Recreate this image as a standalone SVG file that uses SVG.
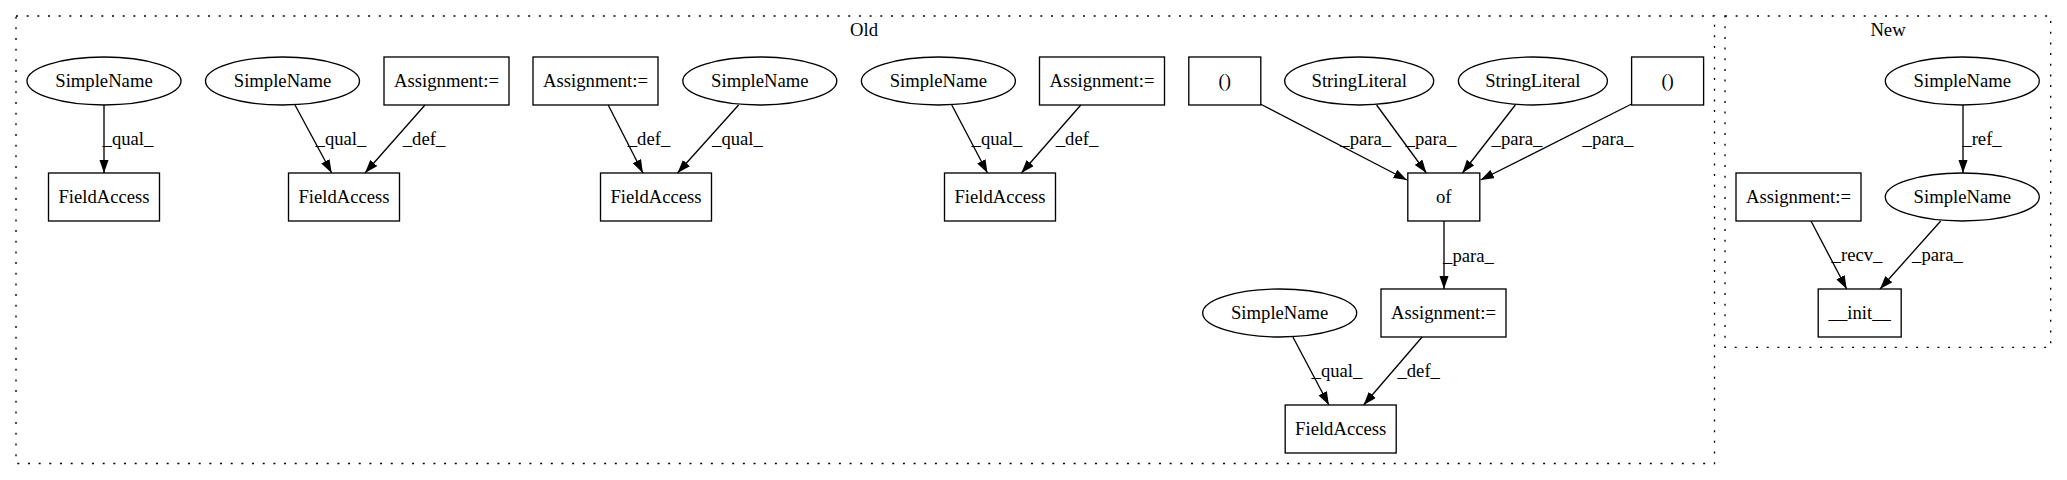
<svg xmlns="http://www.w3.org/2000/svg" width="2067" height="480" viewBox="0 0 2067 480">
<defs>
<marker id="arr" markerUnits="userSpaceOnUse" markerWidth="14" markerHeight="10" refX="13.3" refY="4.67" orient="auto">
<path d="M0,0 L13.3,4.67 L0,9.33 Z" fill="#000"/>
</marker>
</defs>
<style>
text{font-family:'Times New Roman',Times,'Liberation Serif','Nimbus Roman','Nimbus Roman No9 L',Tinos,FreeSerif,'Noto Serif','DejaVu Serif',serif;font-size:18.67px;fill:#000;text-anchor:middle}
.n rect,.n ellipse{fill:none;stroke:#000;stroke-width:1.33}
.cl{fill:none;stroke:#000;stroke-width:1.33;stroke-dasharray:2,8.67}
.e line{stroke:#000;stroke-width:1.33;marker-end:url(#arr)}
</style>
<rect width="2067" height="480" fill="#fff"/>
<g id="cluster_old">
<rect class="cl" x="16" y="16" width="1698.5" height="447.5"/>
<text x="864" y="36">Old</text>
</g>
<g id="cluster_new">
<rect class="cl" x="1725" y="16" width="325.7" height="331.3"/>
<text x="1888" y="36">New</text>
</g>
<g id="edges" class="e">
<line x1="104" y1="105" x2="104" y2="173"/>
<text x="128" y="145">_qual_</text>
<line x1="295" y1="105" x2="331.7" y2="173"/>
<text x="341" y="145">_qual_</text>
<line x1="425" y1="105" x2="365" y2="173"/>
<text x="424" y="145">_def_</text>
<line x1="608.2" y1="105" x2="642.9" y2="173"/>
<text x="649" y="145">_def_</text>
<line x1="738.6" y1="105" x2="677.5" y2="173"/>
<text x="737.5" y="145">_qual_</text>
<line x1="951.8" y1="105" x2="987.5" y2="173"/>
<text x="997" y="145">_qual_</text>
<line x1="1080.8" y1="105" x2="1021.4" y2="173"/>
<text x="1077" y="145">_def_</text>
<line x1="1260.3" y1="104" x2="1406.9" y2="180"/>
<text x="1365.7" y="145">_para_</text>
<line x1="1376.6" y1="105" x2="1426.4" y2="173"/>
<text x="1431" y="145">_para_</text>
<line x1="1515.3" y1="105" x2="1462.4" y2="173"/>
<text x="1517" y="145">_para_</text>
<line x1="1631.6" y1="104" x2="1480.6" y2="180"/>
<text x="1608" y="145">_para_</text>
<line x1="1444" y1="221" x2="1444" y2="289"/>
<text x="1468.5" y="262">_para_</text>
<line x1="1292.9" y1="337" x2="1328.9" y2="405"/>
<text x="1337" y="377">_qual_</text>
<line x1="1422.1" y1="337" x2="1363.6" y2="405"/>
<text x="1418.7" y="377">_def_</text>
<line x1="1963" y1="105" x2="1963" y2="173"/>
<text x="1982" y="145">_ref_</text>
<line x1="1811" y1="221" x2="1846.7" y2="289"/>
<text x="1857" y="261">_recv_</text>
<line x1="1940.7" y1="221" x2="1880" y2="289"/>
<text x="1937.5" y="261">_para_</text>
</g>
<g id="n_sn_a" class="n"><ellipse cx="104" cy="81" rx="77" ry="24"/><text x="104" y="87">SimpleName</text></g>
<g id="n_fa_a" class="n"><rect x="48.5" y="173" width="111" height="48"/><text x="104" y="203">FieldAccess</text></g>
<g id="n_sn_b" class="n"><ellipse cx="282.5" cy="81" rx="77" ry="24"/><text x="282.5" y="87">SimpleName</text></g>
<g id="n_a_b" class="n"><rect x="384" y="57" width="125" height="48"/><text x="446.5" y="87">Assignment:=</text></g>
<g id="n_fa_b" class="n"><rect x="288.5" y="173" width="111" height="48"/><text x="344" y="203">FieldAccess</text></g>
<g id="n_a_c" class="n"><rect x="533" y="57" width="125" height="48"/><text x="595.5" y="87">Assignment:=</text></g>
<g id="n_sn_c" class="n"><ellipse cx="759.8" cy="81" rx="77" ry="24"/><text x="759.8" y="87">SimpleName</text></g>
<g id="n_fa_c" class="n"><rect x="600.5" y="173" width="111" height="48"/><text x="656" y="203">FieldAccess</text></g>
<g id="n_sn_d" class="n"><ellipse cx="938.4" cy="81" rx="77" ry="24"/><text x="938.4" y="87">SimpleName</text></g>
<g id="n_a_d" class="n"><rect x="1039.5" y="57" width="125" height="48"/><text x="1102" y="87">Assignment:=</text></g>
<g id="n_fa_d" class="n"><rect x="944.5" y="173" width="111" height="48"/><text x="1000" y="203">FieldAccess</text></g>
<g id="n_p1" class="n"><rect x="1188.8" y="57" width="72" height="48"/><text x="1224.8" y="87">()</text></g>
<g id="n_sl1" class="n"><ellipse cx="1359.2" cy="81" rx="74.5" ry="24"/><text x="1359.2" y="87">StringLiteral</text></g>
<g id="n_sl2" class="n"><ellipse cx="1532.9" cy="81" rx="74.5" ry="24"/><text x="1532.9" y="87">StringLiteral</text></g>
<g id="n_p2" class="n"><rect x="1631.6" y="57" width="72" height="48"/><text x="1667.6" y="87">()</text></g>
<g id="n_of" class="n"><rect x="1407.8" y="173" width="72" height="48"/><text x="1443.8" y="203">of</text></g>
<g id="n_a_e" class="n"><rect x="1381" y="289" width="125" height="48"/><text x="1443.5" y="319">Assignment:=</text></g>
<g id="n_sn_e" class="n"><ellipse cx="1279.7" cy="313" rx="77" ry="24"/><text x="1279.7" y="319">SimpleName</text></g>
<g id="n_fa_e" class="n"><rect x="1285.2" y="405" width="111" height="48"/><text x="1340.7" y="435">FieldAccess</text></g>
<g id="n_sn_f" class="n"><ellipse cx="1962.3" cy="81" rx="77" ry="24"/><text x="1962.3" y="87">SimpleName</text></g>
<g id="n_sn_g" class="n"><ellipse cx="1962.3" cy="197" rx="77" ry="24"/><text x="1962.3" y="203">SimpleName</text></g>
<g id="n_a_f" class="n"><rect x="1736" y="173" width="125" height="48"/><text x="1798.5" y="203">Assignment:=</text></g>
<g id="n_init" class="n"><rect x="1818.2" y="289" width="83" height="48"/><text x="1859.7" y="319">__init__</text></g>
</svg>
